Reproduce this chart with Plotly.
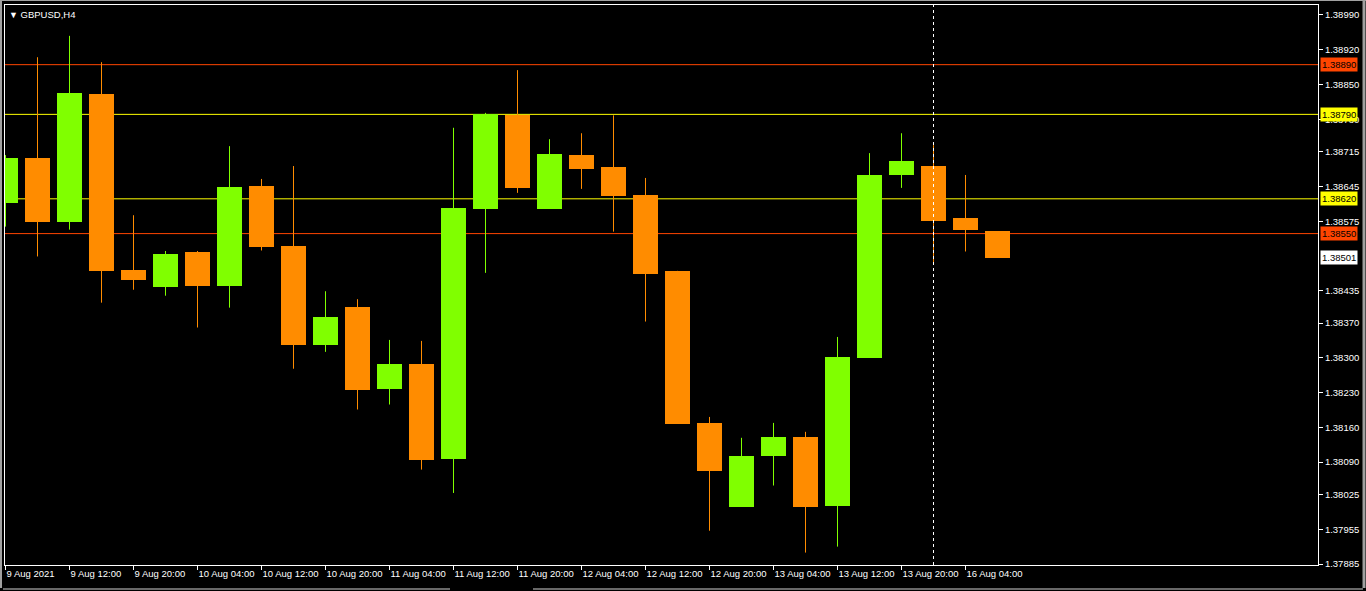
import plotly.graph_objects as go

# ---- data (GBPUSD H4) ----
opens  = [1.38612, 1.38702, 1.38574, 1.38831, 1.38477, 1.38443, 1.38513, 1.38445,
          1.38646, 1.38525, 1.38326, 1.38402, 1.38238, 1.38288, 1.38097, 1.38600,
          1.38788, 1.38600, 1.38708, 1.38684, 1.38628, 1.38475, 1.38169, 1.38000,
          1.38103, 1.38141, 1.38002, 1.38300, 1.38667, 1.38686, 1.38581, 1.38555]
highs  = [1.38708, 1.38905, 1.38948, 1.38895, 1.38587, 1.38515, 1.38515, 1.38726,
          1.38660, 1.38686, 1.38434, 1.38418, 1.38336, 1.38334, 1.38763, 1.38793,
          1.38879, 1.38740, 1.38752, 1.38788, 1.38662, 1.38475, 1.38181, 1.38139,
          1.38169, 1.38151, 1.38342, 1.38712, 1.38752, 1.38728, 1.38668, 1.38555]
lows   = [1.38564, 1.38504, 1.38558, 1.38411, 1.38437, 1.38425, 1.38361, 1.38401,
          1.38516, 1.38278, 1.38312, 1.38196, 1.38206, 1.38075, 1.38028, 1.38471,
          1.38632, 1.38600, 1.38640, 1.38554, 1.38373, 1.38167, 1.37952, 1.38000,
          1.38043, 1.37908, 1.37920, 1.38300, 1.38642, 1.38490, 1.38514, 1.38501]
closes = [1.38702, 1.38574, 1.38833, 1.38475, 1.38457, 1.38509, 1.38445, 1.38644,
          1.38524, 1.38326, 1.38382, 1.38236, 1.38288, 1.38095, 1.38602, 1.38791,
          1.38642, 1.38710, 1.38681, 1.38626, 1.38469, 1.38167, 1.38073, 1.38102,
          1.38141, 1.38000, 1.38302, 1.38668, 1.38696, 1.38576, 1.38558, 1.38501]

x_tick_idx = [0, 2, 4, 6, 8, 10, 12, 14, 16, 18, 20, 22, 24, 26, 28, 30]
x_tick_labels = ["9 Aug 2021", "9 Aug 12:00", "9 Aug 20:00", "10 Aug 04:00",
                 "10 Aug 12:00", "10 Aug 20:00", "11 Aug 04:00", "11 Aug 12:00",
                 "11 Aug 20:00", "12 Aug 04:00", "12 Aug 12:00", "12 Aug 20:00",
                 "13 Aug 04:00", "13 Aug 12:00", "13 Aug 20:00", "16 Aug 04:00"]

y_ticks = [1.38990, 1.38920, 1.38850, 1.38780, 1.38715, 1.38645, 1.38575,
           1.38435, 1.38370, 1.38300, 1.38230, 1.38160, 1.38090, 1.38025,
           1.37955, 1.37885]

levels = [1.38890, 1.38790, 1.38620, 1.38550]
level_colors = ["#FF4500", "#FFFF00", "#FFFF00", "#FF4500"]
current_price = 1.38501
separator_idx = 29

BULL = "#80FF00"
BEAR = "#FF8C00"

idx = list(range(len(opens)))
colors = [BULL if c >= o else BEAR for o, c in zip(opens, closes)]

fig = go.Figure()

# wicks
for col in (BULL, BEAR):
    wx, wy = [], []
    for i in idx:
        if colors[i] == col:
            wx += [i, i, None]
            wy += [lows[i], highs[i], None]
    fig.add_trace(go.Scatter(x=wx, y=wy, mode="lines",
                             line=dict(color=col, width=1),
                             hoverinfo="skip", showlegend=False))

# bodies
BAR_PX = 32.0
fig.add_trace(go.Bar(
    x=idx,
    y=[max(abs(c - o), 0.000005) for o, c in zip(opens, closes)],
    base=[min(o, c) for o, c in zip(opens, closes)],
    width=25 / BAR_PX,
    marker=dict(color=colors, line=dict(width=0)),
    showlegend=False,
))

shapes = []
for lv, lc in zip(levels, level_colors):
    shapes.append(dict(type="line", xref="paper", x0=0, x1=1, yref="y",
                       y0=lv, y1=lv, line=dict(color=lc, width=1), layer="below"))
shapes.append(dict(type="line", xref="x", x0=separator_idx, x1=separator_idx,
                   yref="paper", y0=0, y1=1,
                   line=dict(color="white", width=1, dash="3px,3px")))

# window chrome (pixel -> paper conversion)
L, R, T, B = 5, 1318, 5, 565
def px(v):
    return (v - L) / (R - L)
def py(v):
    return (B - v) / (B - T)

shapes += [
    dict(type="line", xref="paper", yref="paper", x0=px(1), x1=px(1), y0=py(0), y1=py(588),
         line=dict(color="#a0a0a0", width=2)),
    dict(type="line", xref="paper", yref="paper", x0=px(1364), x1=px(1364), y0=py(0), y1=py(588),
         line=dict(color="#a0a0a0", width=3)),
    dict(type="line", xref="paper", yref="paper", x0=px(0), x1=px(1366), y0=py(0.5), y1=py(0.5),
         line=dict(color="#a0a0a0", width=1)),
    dict(type="line", xref="paper", yref="paper", x0=px(3), x1=px(450), y0=py(589), y1=py(589),
         line=dict(color="#d0d0d0", width=1)),
    dict(type="line", xref="paper", yref="paper", x0=px(533), x1=px(1363), y0=py(589), y1=py(589),
         line=dict(color="#d0d0d0", width=1)),
]

FONT = "Liberation Sans, Arial, sans-serif"

annotations = []
for lv, lc in zip(levels, level_colors):
    annotations.append(dict(xref="paper", x=1, xanchor="left", xshift=2,
                            yref="y", y=lv, yanchor="middle",
                            text=f"{lv:.5f}", showarrow=False,
                            bgcolor=lc, borderpad=1,
                            font=dict(family=FONT, size=9.5, color="black")))
annotations.append(dict(xref="paper", x=1, xanchor="left", xshift=2,
                        yref="y", y=current_price, yanchor="middle",
                        text=f"{current_price:.5f}", showarrow=False,
                        bgcolor="white", borderpad=1,
                        font=dict(family=FONT, size=9.5, color="black")))
annotations.append(dict(xref="paper", x=0, xanchor="left", xshift=2,
                        yref="paper", y=1, yanchor="top", yshift=-2,
                        text="<span style='font-size:9px'>▼</span> GBPUSD,H4",
                        showarrow=False,
                        font=dict(family=FONT, size=9.5, color="white")))

x0 = -0.5 / BAR_PX  # put candle centres on half pixels for crisp 1px wicks

fig.update_layout(
    width=1366, height=591,
    margin=dict(l=L, r=1366 - R, t=T, b=591 - B, autoexpand=False),
    paper_bgcolor="black", plot_bgcolor="black",
    showlegend=False, bargap=0,
    shapes=shapes, annotations=annotations,
    xaxis=dict(range=[x0, x0 + (R - L) / BAR_PX], showgrid=False, zeroline=False,
               showline=True, linecolor="white", linewidth=1, mirror=True,
               ticks="outside", ticklen=4, tickcolor="white", tickwidth=1,
               tickvals=x_tick_idx, ticktext=x_tick_labels, tickangle=0,
               ticklabelposition="outside right",
               tickfont=dict(family=FONT, size=9.5, color="white"),
               fixedrange=True),
    yaxis=dict(range=[1.378830, 1.390101], side="right", showgrid=False,
               zeroline=False, showline=True, linecolor="white", linewidth=1,
               mirror=True, ticks="outside", ticklen=4, tickcolor="white",
               tickwidth=1, tickvals=y_ticks,
               ticktext=[f"{v:.5f}" for v in y_ticks],
               tickfont=dict(family=FONT, size=9.5, color="white"),
               fixedrange=True),
)

fig.write_html("out.html", config={"displayModeBar": False},
               post_script="document.body.style.margin='0';document.body.style.background='black';")
